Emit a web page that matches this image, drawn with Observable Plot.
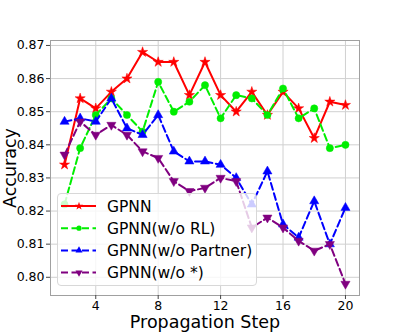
<!DOCTYPE html>
<html><head><meta charset="utf-8">
<script src="https://cdn.jsdelivr.net/npm/d3@7"></script>
<script src="https://cdn.jsdelivr.net/npm/@observablehq/plot@0.6"></script>
<style>
body{margin:0;background:#fff;font-family:"DejaVu Sans",sans-serif;}
#wrap{position:relative;width:399px;height:332px;}
#legend{position:absolute;left:57px;top:193px;width:200px;height:93px;box-sizing:border-box;background:rgba(255,255,255,0.8);border:1px solid #d8d8d8;border-radius:4px;}
svg [aria-label="x-axis label"] text, svg [aria-label="y-axis label"] text{font-size:17.5px;}
</style></head>
<body><div id="wrap"><div id="legend"></div></div>
<script>
const steps = [2,3,4,5,6,7,8,9,10,11,12,13,14,15,16,17,18,19,20];
const gpnn      = [0.834,0.854,0.851,0.856,0.860,0.868,0.865,0.865,0.855,0.865,0.855,0.850,0.856,0.849,0.856,0.851,0.842,0.853,0.852];
const woRL      = [0.822,0.839,0.849,0.854,0.849,0.844,0.859,0.850,0.853,0.858,0.848,0.855,0.854,0.849,0.857,0.848,0.851,0.839,0.840];
const woPartner = [0.847,0.848,0.847,0.854,0.845,0.843,0.849,0.838,0.835,0.835,0.834,0.830,0.822,0.832,0.816,0.812,0.823,0.810,0.821];
const woStar    = [0.837,0.847,0.843,0.846,0.843,0.838,0.836,0.829,0.826,0.827,0.830,0.829,0.815,0.818,0.815,0.811,0.808,0.810,0.798];
const seriesNames = ["GPNN","GPNN(w/o RL)","GPNN(w/o Partner)","GPNN(w/o *)"];
const seriesColors = ["#ff0000","#00ee00","#0000ff","#800080"];
const seriesSymbols = ["star","circle","triangle","triangle"];
const seriesRotate = [0,0,0,180];
const seriesR = [3.2,3.6,3.4,3.4];
const seriesDash = [null,"7,3.5","7,3.5","7,3.5"];
const xTicks = [4,8,12,16,20];
const yTicks = [0.80,0.81,0.82,0.83,0.84,0.85,0.86,0.87];

const allSeries = [gpnn, woRL, woPartner, woStar];
const tables = allSeries.map(vals => steps.map((s,i)=>({step:s, acc:vals[i]})));

const marks = [
  Plot.gridX(xTicks,{stroke:"#d0d0d0",strokeOpacity:1}),
  Plot.gridY(yTicks,{stroke:"#d0d0d0",strokeOpacity:1}),
  Plot.frame({stroke:"#a0a0a0"}),
  Plot.axisX(xTicks,{tickSize:4,tickPadding:2,fontSize:12.5,stroke:"#444",label:"Propagation Step",labelAnchor:"center",labelArrow:"none",labelOffset:32,tickFormat:d=>String(d)}),
  Plot.axisY(yTicks,{tickSize:4,tickPadding:2,fontSize:12.5,stroke:"#444",label:"Accuracy",labelAnchor:"center",labelArrow:"none",labelOffset:47,tickFormat:d=>d.toFixed(2)})
];
tables.forEach((t,k)=>{
  marks.push(Plot.line(t,{x:"step",y:"acc",stroke:seriesColors[k],strokeWidth:2,strokeDasharray:seriesDash[k]}));
  marks.push(Plot.dot(t,{x:"step",y:"acc",symbol:()=>seriesSymbols[k],fill:seriesColors[k],stroke:seriesColors[k],strokeWidth:0.5,r:seriesR[k],rotate:seriesRotate[k]}));
});

const chart = Plot.plot({
  width:399, height:332,
  marginLeft:50, marginRight:40, marginTop:40, marginBottom:37,
  style:{fontFamily:"DejaVu Sans",color:"#000",background:"transparent"},
  x:{domain:[1.1,20.9]},
  y:{domain:[0.7945,0.8715]},
  symbol:{type:"identity"},
  marks
});
const wrap = document.getElementById("wrap");
wrap.insertBefore(chart, wrap.firstChild);

// legend
const lg = d3.select("#legend").append("svg").attr("width",198).attr("height",91);
seriesNames.forEach((name,k)=>{
  const y = 12 + k*22.2;
  lg.append("line").attr("x1",3).attr("x2",38).attr("y1",y).attr("y2",y)
    .attr("stroke",seriesColors[k]).attr("stroke-width",2).attr("stroke-dasharray",seriesDash[k]);
  const sym = d3.symbol().type(seriesSymbols[k]==="star"?d3.symbolStar:seriesSymbols[k]==="circle"?d3.symbolCircle:d3.symbolTriangle).size(Math.PI*2.6*2.6);
  lg.append("path").attr("d",sym()).attr("fill",seriesColors[k])
    .attr("transform",`translate(21,${y}) rotate(${seriesRotate[k]})`);
  lg.append("text").attr("x",49).attr("y",y).attr("dy","0.36em").attr("font-size",15.5)
    .attr("font-family","DejaVu Sans").text(name);
});
</script>
</body></html>
